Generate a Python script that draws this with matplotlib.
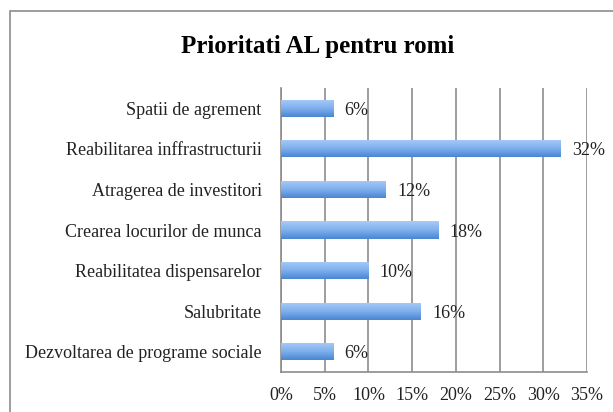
import numpy as np
import matplotlib.pyplot as plt
from matplotlib.patches import Rectangle
from matplotlib.ticker import FuncFormatter

# date din grafic (de jos in sus)
categorii = ['Dezvoltarea de programe sociale', 'Salubritate',
             'Reabilitatea dispensarelor', 'Crearea locurilor de munca',
             'Atragerea de investitori', 'Reabilitarea inffrastructurii',
             'Spatii de agrement']
procente = [6, 16, 10, 18, 12, 32, 6]
ticks_x = [0, 5, 10, 15, 20, 25, 30, 35]

plt.rcParams['font.family'] = ['Liberation Serif', 'DejaVu Serif']

W, H = 613, 412
fig = plt.figure(figsize=(W / 100, H / 100), dpi=100)

# chenarul exterior
fig.patches.append(Rectangle((10 / W, -0.1), 1.0, 1 - 11 / H + 0.1,
                             transform=fig.transFigure, fill=False,
                             edgecolor='#8c8c8c', linewidth=1.2))

ax = fig.add_axes([281 / W, 1 - 372 / H, (587 - 281) / W, (372 - 88) / H])

y = np.arange(len(categorii))
bare = ax.barh(y, procente, height=0.42, color='#6ea3e6', zorder=3)

# gradient pe bare
grad = np.linspace(0, 1, 64).reshape(-1, 1)
cmap = plt.matplotlib.colors.LinearSegmentedColormap.from_list(
    'bl', ['#4a86d4', '#7fb0ee', '#a9cbf7'])
for b in bare:
    x0, y0 = b.get_x(), b.get_y()
    im = ax.imshow(grad, cmap=cmap, aspect='auto', origin='lower',
                   extent=(x0, x0 + b.get_width(), y0, y0 + b.get_height()),
                   zorder=4)
    im.set_clip_path(b)

for yi, v in zip(y, procente):
    ax.annotate(f'{v}%', (v, yi), xytext=(8, 0), textcoords='offset points',
                va='center_baseline', ha='left', fontsize=13, color='#222222',
                zorder=5)

ax.set_xlim(0, 35)
ax.set_ylim(-0.5, len(categorii) - 0.5)
ax.set_xticks(ticks_x)
ax.xaxis.set_major_formatter(FuncFormatter(lambda v, p: f'{int(v)}%'))
ax.set_yticks(y)
ax.set_yticklabels(categorii)
ax.tick_params(axis='both', length=0, labelsize=13, colors='#222222')
ax.tick_params(axis='x', pad=11)
ax.tick_params(axis='y', pad=14)

ax.grid(axis='x', color='#8c8c8c', linewidth=1.2, zorder=1)
for s in ['top', 'right']:
    ax.spines[s].set_visible(False)
for s in ['left', 'bottom']:
    ax.spines[s].set_color('#8c8c8c')
    ax.spines[s].set_linewidth(1.2)

fig.text(318 / W, 1 - 47 / H, 'Prioritati AL pentru romi', ha='center',
         va='center', fontsize=18, fontweight='bold')

fig.savefig('out.png', dpi=100)
